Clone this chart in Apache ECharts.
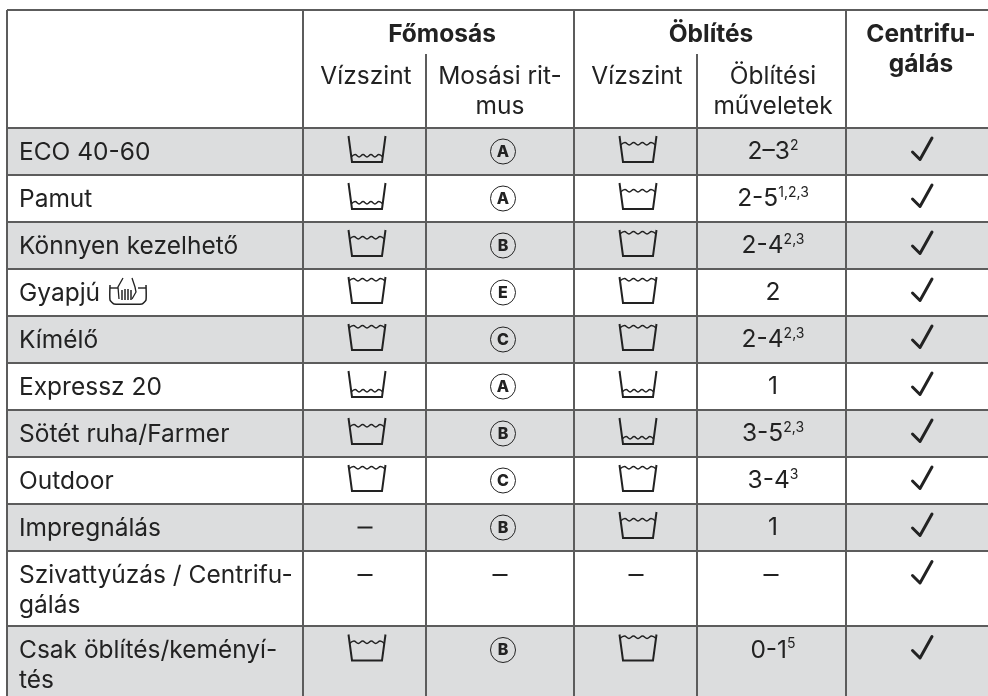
<!DOCTYPE html>
<html>
<head>
<meta charset="utf-8">
<style>
html, body { margin: 0; padding: 0; background: #fff; }
#main { width: 988px; height: 696px; }
</style>
<script src="https://cdn.jsdelivr.net/npm/echarts@6/dist/echarts.min.js"></script>
</head>
<body>
<div id="main"></div>
<script>
// table content
var programs = ['ECO 40-60', 'Pamut', 'Könnyen kezelhető', 'Gyapjú', 'Kímélő', 'Expressz 20',
    'Sötét ruha/Farmer', 'Outdoor', 'Impregnálás', 'Szivattyúzás / Centrifu-\ngálás', 'Csak öblítés/keményí-\ntés'];
// 1 low, 2 middle, 3 high, 0 none
var mainLevel = [1, 1, 2, 3, 3, 1, 2, 3, 0, 0, 2];
var rhythm = ['A', 'A', 'B', 'E', 'C', 'A', 'B', 'C', 'B', '', 'B'];
var rinseLevel = [2, 2, 3, 3, 3, 1, 1, 3, 2, 0, 3];
var rinseCount = ['2–3', '2-5', '2-4', '2', '2-4', '1', '3-5', '3-4', '1', '', '0-1'];
var rinseNotes = ['2', '1,2,3', '2,3', '', '2,3', '', '2,3', '3', '', '', '5'];
var spin = [1, 1, 1, 1, 1, 1, 1, 1, 1, 1, 1];

// table layout
var colCenters = [367, 503, 638, 773, 922];
var rowLines = [128, 175, 222, 269, 316, 363, 410, 457, 504, 551, 626, 696];
var INK = '#222222';
var LINE = '#5c5c5c';
var FONT = 'Inter';
var TEXT_SIZE = 24.5;

var cells = [];
for (var i = 0; i < programs.length; i++) {
    var rowTop = rowLines[i];
    var rowBottom = rowLines[i + 1];
    var mid = i > 8 ? rowTop + 24 : (rowTop + rowBottom) / 2;
    var nameY = i > 8 ? rowTop + 40 : mid + 1;
    cells.push({ kind: 'name', x: 19, y: nameY, text: programs[i] });
    cells.push(mainLevel[i] ? { kind: 'basin', x: colCenters[0], y: mid, level: mainLevel[i] } : { kind: 'dash', x: colCenters[0] - 2, y: mid });
    cells.push(rhythm[i] ? { kind: 'badge', x: colCenters[1], y: mid, text: rhythm[i] } : { kind: 'dash', x: colCenters[1] - 3, y: mid });
    cells.push(rinseLevel[i] ? { kind: 'basin', x: colCenters[2], y: mid, level: rinseLevel[i] } : { kind: 'dash', x: colCenters[2] - 2, y: mid });
    cells.push(rinseCount[i] ? { kind: 'count', x: colCenters[3], y: mid, text: rinseCount[i], note: rinseNotes[i] } : { kind: 'dash', x: colCenters[3] - 2, y: mid });
    if (spin[i]) cells.push({ kind: 'check', x: colCenters[4], y: mid });
}
// hand wash sign next to Gyapjú
cells.push({ kind: 'hand', x: 128, y: rowLines[3] + 22 });

var headers = [
    { x: 442, y: 35, text: 'Főmosás', bold: true },
    { x: 711, y: 35, text: 'Öblítés', bold: true },
    { x: 921, y: 50, text: 'Centrifu-\ngálás', bold: true },
    { x: 366, y: 77, text: 'Vízszint' },
    { x: 500, y: 92, text: 'Mosási rit-\nmus' },
    { x: 637, y: 77, text: 'Vízszint' },
    { x: 773, y: 92, text: 'Öblítési\nműveletek' }
];

function px(api, x, y) {
    return api.coord([x, y]);
}
function stroke(shape, w) {
    return { type: 'polyline', shape: { points: shape }, style: { fill: null, stroke: INK, lineWidth: w, lineJoin: 'miter' } };
}

function basin(c) {
    var x = c.x, y = c.y - 2.5;
    var waveY = c.level == 1 ? y + 7 : (c.level == 2 ? y - 5 : y - 10);
    // walls lean inward, wave runs between them
    var t = (waveY - (y - 13)) / 26;
    var lx = x - 18.5 + t * 3.5, rx = x + 18.5 - t * 3.5;
    var wave = [];
    var n = 8;
    for (var k = 0; k <= n; k++) {
        wave.push([lx + (rx - lx) * k / n, waveY + (k % 2 ? -1.4 : 1)]);
    }
    return [
        stroke([[x - 18.5, y - 13], [x - 15, y + 13], [x + 15, y + 13], [x + 18.5, y - 13]], 2),
        { type: 'polyline', shape: { points: wave, smooth: 0.4 }, style: { fill: null, stroke: INK, lineWidth: 1.5 } }
    ];
}

function hand(c) {
    var x = c.x, y = c.y;
    return [
        { type: 'polyline', shape: { points: [[x - 18, y - 6], [x - 18, y + 9], [x - 14, y + 13], [x + 14, y + 13], [x + 18, y + 9], [x + 18, y - 6]], smooth: 0.15 },
          style: { fill: null, stroke: INK, lineWidth: 1.5 } },
        stroke([[x - 18, y - 3], [x - 10, y - 3]], 1.4),
        stroke([[x + 10, y - 3], [x + 18, y - 3]], 1.4),
        stroke([[x - 5, y - 13], [x - 10, y - 4], [x - 9, y + 8]], 1.3),
        stroke([[x + 4, y - 13], [x + 7, y - 4], [x + 8, y + 1], [x + 4, y + 8]], 1.3),
        stroke([[x - 6, y - 1], [x - 6, y + 9]], 1.5),
        stroke([[x - 3, y - 2], [x - 3, y + 9]], 1.5),
        stroke([[x, y - 2], [x, y + 9]], 1.5),
        stroke([[x + 3, y - 1], [x + 3, y + 9]], 1.5)
    ];
}

function renderCell(params, api) {
    var c = cells[params.dataIndex];
    var p = px(api, c.x, c.y);
    var o = { x: p[0], y: p[1], level: c.level };
    if (c.kind == 'name') {
        return { type: 'text', style: { x: p[0], y: p[1], text: c.text, font: '400 ' + TEXT_SIZE + 'px ' + FONT, fill: INK, lineHeight: 30, align: 'left', verticalAlign: 'middle' } };
    }
    if (c.kind == 'basin') {
        return { type: 'group', children: basin(o) };
    }
    if (c.kind == 'hand') {
        return { type: 'group', children: hand(o) };
    }
    if (c.kind == 'dash') {
        return { type: 'line', shape: { x1: p[0] - 7.5, y1: p[1], x2: p[0] + 7.5, y2: p[1] }, style: { stroke: INK, lineWidth: 2 } };
    }
    if (c.kind == 'check') {
        return { type: 'polyline', shape: { points: [[p[0] - 9.5, p[1] + 0.5], [p[0] - 2, p[1] + 8], [p[0] + 10, p[1] - 13.5]] }, style: { fill: null, stroke: INK, lineWidth: 3, lineCap: 'round', lineJoin: 'round' } };
    }
    if (c.kind == 'badge') {
        return { type: 'group', children: [
            { type: 'circle', shape: { cx: p[0], cy: p[1], r: 12.5 }, style: { fill: null, stroke: INK, lineWidth: 1 } },
            { type: 'text', style: { x: p[0], y: p[1] + 0.5, text: c.text, font: '800 16px ' + FONT, fill: INK, align: 'center', verticalAlign: 'middle' } }
        ] };
    }
    // rinse count with footnote numbers
    var s = c.note ? '{n|' + c.text + '}{s|' + c.note + '}' : '{n|' + c.text + '}';
    return { type: 'text', style: { x: p[0], y: p[1], text: s, align: 'center', verticalAlign: 'middle',
        rich: {
            n: { font: '400 ' + TEXT_SIZE + 'px ' + FONT, fill: INK, verticalAlign: 'bottom', lineHeight: 26 },
            s: { font: '400 14px ' + FONT, fill: INK, verticalAlign: 'top', lineHeight: 14 }
        } } };
}

function renderBand(params, api) {
    var a = px(api, 0, rowLines[params.dataIndex]);
    var b = px(api, 988, rowLines[params.dataIndex + 1]);
    return { type: 'rect', shape: { x: a[0] + 8, y: a[1], width: b[0] - a[0] - 8, height: b[1] - a[1] }, style: { fill: api.value(1) % 2 == 0 ? '#dcddde' : '#ffffff' } };
}

// x1, y1, x2, y2 of every ruling
var rulings = [
    [7, 10, 7, 696], [303, 10, 303, 696], [574, 10, 574, 696], [846, 10, 846, 696],
    [426, 54, 426, 696], [697, 54, 697, 696],
    [7, 10, 988, 10]
];
for (var r = 0; r < rowLines.length - 1; r++) {
    rulings.push([7, rowLines[r], 988, rowLines[r]]);
}

function renderRule(params, api) {
    var l = rulings[params.dataIndex];
    var a = px(api, l[0], l[1]);
    var b = px(api, l[2], l[3]);
    return { type: 'line', shape: { x1: a[0], y1: a[1], x2: b[0], y2: b[1] }, style: { stroke: LINE, lineWidth: 2 } };
}

function renderHeader(params, api) {
    var h = headers[params.dataIndex];
    var p = px(api, h.x, h.y);
    return { type: 'text', style: { x: p[0], y: p[1], text: h.text, font: (h.bold ? '700' : '400') + ' ' + TEXT_SIZE + 'px ' + FONT, fill: INK, lineHeight: 30, align: 'center', verticalAlign: 'middle' } };
}

var myChart = echarts.init(document.getElementById('main'), null, { renderer: 'canvas' });
myChart.setOption({
    animation: false,
    backgroundColor: '#ffffff',
    grid: { left: 0, right: 0, top: 0, bottom: 0 },
    xAxis: { type: 'value', min: 0, max: 988, show: false },
    yAxis: { type: 'value', min: 0, max: 696, inverse: true, show: false },
    series: [
        { type: 'custom', silent: true, clip: false, renderItem: renderBand, data: programs.map(function (n, idx) { return [0, idx]; }) },
        { type: 'custom', silent: true, clip: false, renderItem: renderRule, data: rulings.map(function (l) { return [l[0], l[1]]; }) },
        { type: 'custom', silent: true, clip: false, renderItem: renderHeader, data: headers.map(function (h) { return [h.x, h.y]; }) },
        { type: 'custom', silent: true, clip: false, renderItem: renderCell, data: cells.map(function (c) { return [c.x, c.y]; }) }
    ]
});
</script>
</body>
</html>
